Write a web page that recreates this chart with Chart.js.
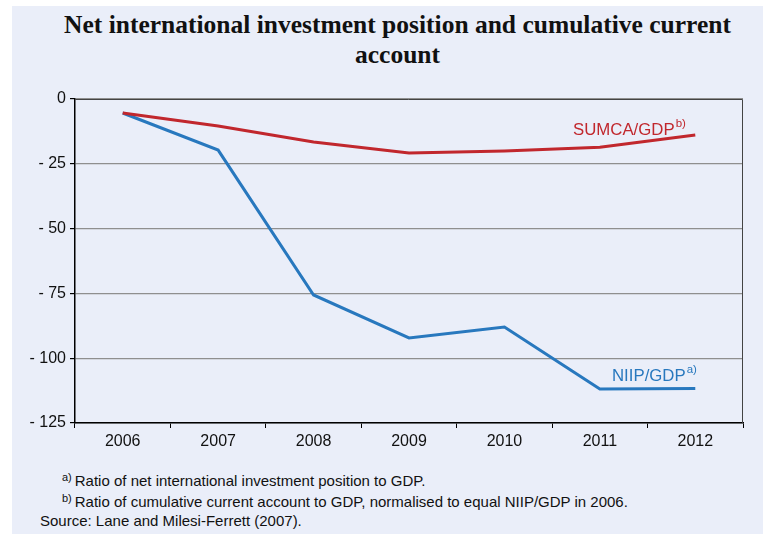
<!DOCTYPE html>
<html>
<head>
<meta charset="utf-8">
<script src="https://cdn.jsdelivr.net/npm/chart.js@4/dist/chart.umd.min.js"></script>
<style>
    html, body { margin: 0; padding: 0; background: #fff; }
    .panel { position: absolute; left: 12px; top: 6px; width: 751px; height: 528px; background: #eaeef9; }
    .title { position: absolute; left: 10px; top: 4px; width: 751px; text-align: center; font: bold 25.5px "Liberation Serif", serif; line-height: 30px; color: #111; }
    .chart-box { position: absolute; left: 0; top: 79px; width: 751px; height: 370px; }
    .note { position: absolute; font: 15px "Liberation Sans", Arial, sans-serif; line-height: 17px; color: #111; white-space: nowrap; }
    .note sup { font-size: 11px; vertical-align: 5px; margin-right: 3px; }
</style>
</head>
<body>
<div class="panel">
    <div class="title">Net international investment position and cumulative current<br>account</div>
    <div class="chart-box"><canvas id="chart"></canvas></div>
    <div class="note" style="left:50px; top:463px;"><sup>a)</sup>Ratio of net international investment position to GDP.</div>
    <div class="note" style="left:50px; top:484px;"><sup>b)</sup>Ratio of cumulative current account to GDP, normalised to equal NIIP/GDP in 2006.</div>
    <div class="note" style="left:28px; top:506px;">Source: Lane and Milesi-Ferrett (2007).</div>
</div>
<script>
    const years = ['2006', '2007', '2008', '2009', '2010', '2011', '2012'];
    const niipGdp = [-5.4, -19.7, -75.6, -92.2, -88.0, -111.9, -111.7];
    const sumcaGdp = [-5.4, -10.4, -16.6, -20.8, -20.1, -18.6, -13.9];
    const yTicks = [0, -25, -50, -75, -100, -125];

    const RED = '#c1272d';
    const BLUE = '#2878be';

    // frame of the plot + series labels
    const framePlugin = {
        id: 'frame',
        afterDraw(chart) {
            const { ctx, chartArea: a } = chart;
            ctx.save();
            ctx.strokeStyle = '#444';
            ctx.lineWidth = 1;
            ctx.beginPath();
            ctx.moveTo(a.left, a.top + 0.5);
            ctx.lineTo(a.right - 0.5, a.top + 0.5);
            ctx.lineTo(a.right - 0.5, a.bottom);
            ctx.stroke();

            function label(text, sup, x, y, color) {
                ctx.fillStyle = color;
                ctx.textBaseline = 'alphabetic';
                ctx.font = '16.8px "Liberation Sans", Arial, sans-serif';
                ctx.fillText(text, x, y);
                const w = ctx.measureText(text).width;
                ctx.font = '11.5px "Liberation Sans", Arial, sans-serif';
                ctx.fillText(sup, x + w + 1, y - 8);
            }
            label('SUMCA/GDP', 'b)', a.left + 498, a.top + 36, RED);
            label('NIIP/GDP', 'a)', a.left + 537, a.top + 282, BLUE);
            ctx.restore();
        }
    };

    const tickFont = { family: '"Liberation Sans", Arial, sans-serif', size: 16 };

    new Chart(document.getElementById('chart').getContext('2d'), {
        type: 'line',
        data: {
            labels: years,
            datasets: [
                { label: 'SUMCA/GDP', data: sumcaGdp, borderColor: RED, borderWidth: 3, pointRadius: 0, tension: 0, fill: false },
                { label: 'NIIP/GDP', data: niipGdp, borderColor: BLUE, borderWidth: 3, pointRadius: 0, tension: 0, fill: false }
            ]
        },
        options: {
            responsive: true,
            maintainAspectRatio: false,
            animation: false,
            layout: { padding: { top: 14, right: 20, left: 0, bottom: 0 } },
            plugins: { legend: { display: false }, tooltip: { enabled: false } },
            scales: {
                x: {
                    offset: true,
                    afterFit: scale => { scale.height = 32; },
                    grid: { offset: true, drawOnChartArea: false, tickLength: 5, tickColor: '#000' },
                    border: { color: '#000', width: 1.5 },
                    ticks: { color: '#111', padding: 4, font: tickFont }
                },
                y: {
                    min: -125,
                    max: 0,
                    afterFit: scale => { scale.width = 63; },
                    afterBuildTicks: scale => { scale.ticks = yTicks.map(v => ({ value: v })); },
                    grid: { color: '#8f8f8f', lineWidth: 1.2, tickLength: 5, tickColor: '#000' },
                    border: { color: '#000', width: 1.5 },
                    ticks: {
                        color: '#111',
                        padding: 4,
                        font: tickFont,
                        callback: v => v === 0 ? '0' : '- ' + Math.abs(v)
                    }
                }
            }
        },
        plugins: [framePlugin]
    });
</script>
</body>
</html>
